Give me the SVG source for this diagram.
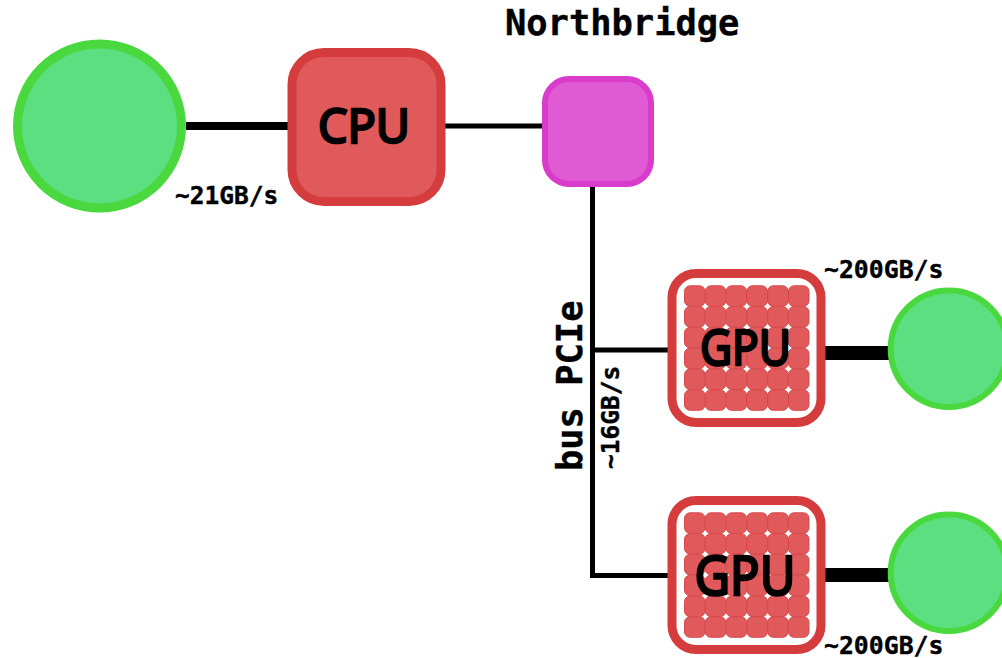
<svg xmlns="http://www.w3.org/2000/svg" width="1002" height="658" viewBox="0 0 1002 658">
<style>
.mem{fill:#5bdf80;stroke:#49d83e}
.red{fill:#e05a5c;stroke:#d53c3d;stroke-width:9}
.cell{fill:#e05a5c;stroke:#d9484a;stroke-width:1}
.gpu{fill:#fff;stroke:#d53c3d;stroke-width:9}
.c{stroke:#000;fill:none}
.mono{font-family:"DejaVu Sans Mono","Liberation Mono",monospace;font-weight:700;fill:#000;stroke:#000;stroke-width:.4}
.chip{font-family:"Noto Sans","Open Sans",sans-serif;font-weight:400;fill:#000;stroke:#000;stroke-width:2.600;text-anchor:middle}
</style>
<defs>
<rect id="cell" class="cell" width="20.500" height="20.500" rx="5.500"/>
<g id="row"><use href="#cell" x="0"/><use href="#cell" x="20.800"/><use href="#cell" x="41.600"/><use href="#cell" x="62.400"/><use href="#cell" x="83.200"/><use href="#cell" x="104"/></g>
<g id="grid"><use href="#row" y="0"/><use href="#row" y="20.800"/><use href="#row" y="41.600"/><use href="#row" y="62.400"/><use href="#row" y="83.200"/><use href="#row" y="104"/></g>
</defs>
<g id="connectors">
<path class="c" stroke-width="8" d="M186 126H288"/>
<path class="c" stroke-width="5" d="M445 126H543"/>
<path class="c" stroke-width="5" d="M592.500 187V575.500H668M592.500 350H668"/>
<path class="c" stroke-width="14" d="M825 353H889M825 575H889"/>
</g>
<g id="mem-main"><circle class="mem" cx="99.500" cy="126" r="82" stroke-width="9"/></g>
<g id="cpu"><rect class="red" x="292" y="52.500" width="149" height="149" rx="32"/><text class="chip" x="364" y="143" font-size="48" textLength="92" lengthAdjust="spacingAndGlyphs">CPU</text></g>
<g id="northbridge"><rect x="545" y="79" width="106" height="105" rx="24" fill="#e05ad4" stroke="#d93bca" stroke-width="6"/><text class="mono" x="505" y="35" font-size="35.400">Northbridge</text></g>
<g id="gpu1"><rect class="gpu" x="672" y="273.500" width="149" height="149" rx="24"/><use href="#grid" x="684.500" y="285.800"/><text class="chip" x="745.500" y="365" font-size="49" textLength="91" lengthAdjust="spacingAndGlyphs">GPU</text></g>
<g id="gpu2"><rect class="gpu" x="672" y="500.500" width="149" height="149" rx="24"/><use href="#grid" x="684.500" y="512.800"/><text class="chip" x="745" y="595" font-size="55" textLength="101" lengthAdjust="spacingAndGlyphs">GPU</text></g>
<g id="mem-gpu1"><circle class="mem" cx="949" cy="348.700" r="58.300" stroke-width="6"/></g>
<g id="mem-gpu2"><circle class="mem" cx="949" cy="572.700" r="58.300" stroke-width="6"/></g>
<g id="labels">
<text class="mono" x="175" y="204" font-size="24.500">~21GB/s</text>
<text class="mono" x="824" y="278" font-size="24.800">~200GB/s</text>
<text class="mono" x="824" y="654" font-size="24.800">~200GB/s</text>
<text class="mono" transform="translate(582 471) rotate(-90)" font-size="35.400">bus PCIe</text>
<text class="mono" transform="translate(619 469) rotate(-90)" font-size="24.500">~16GB/s</text>
</g>
</svg>
